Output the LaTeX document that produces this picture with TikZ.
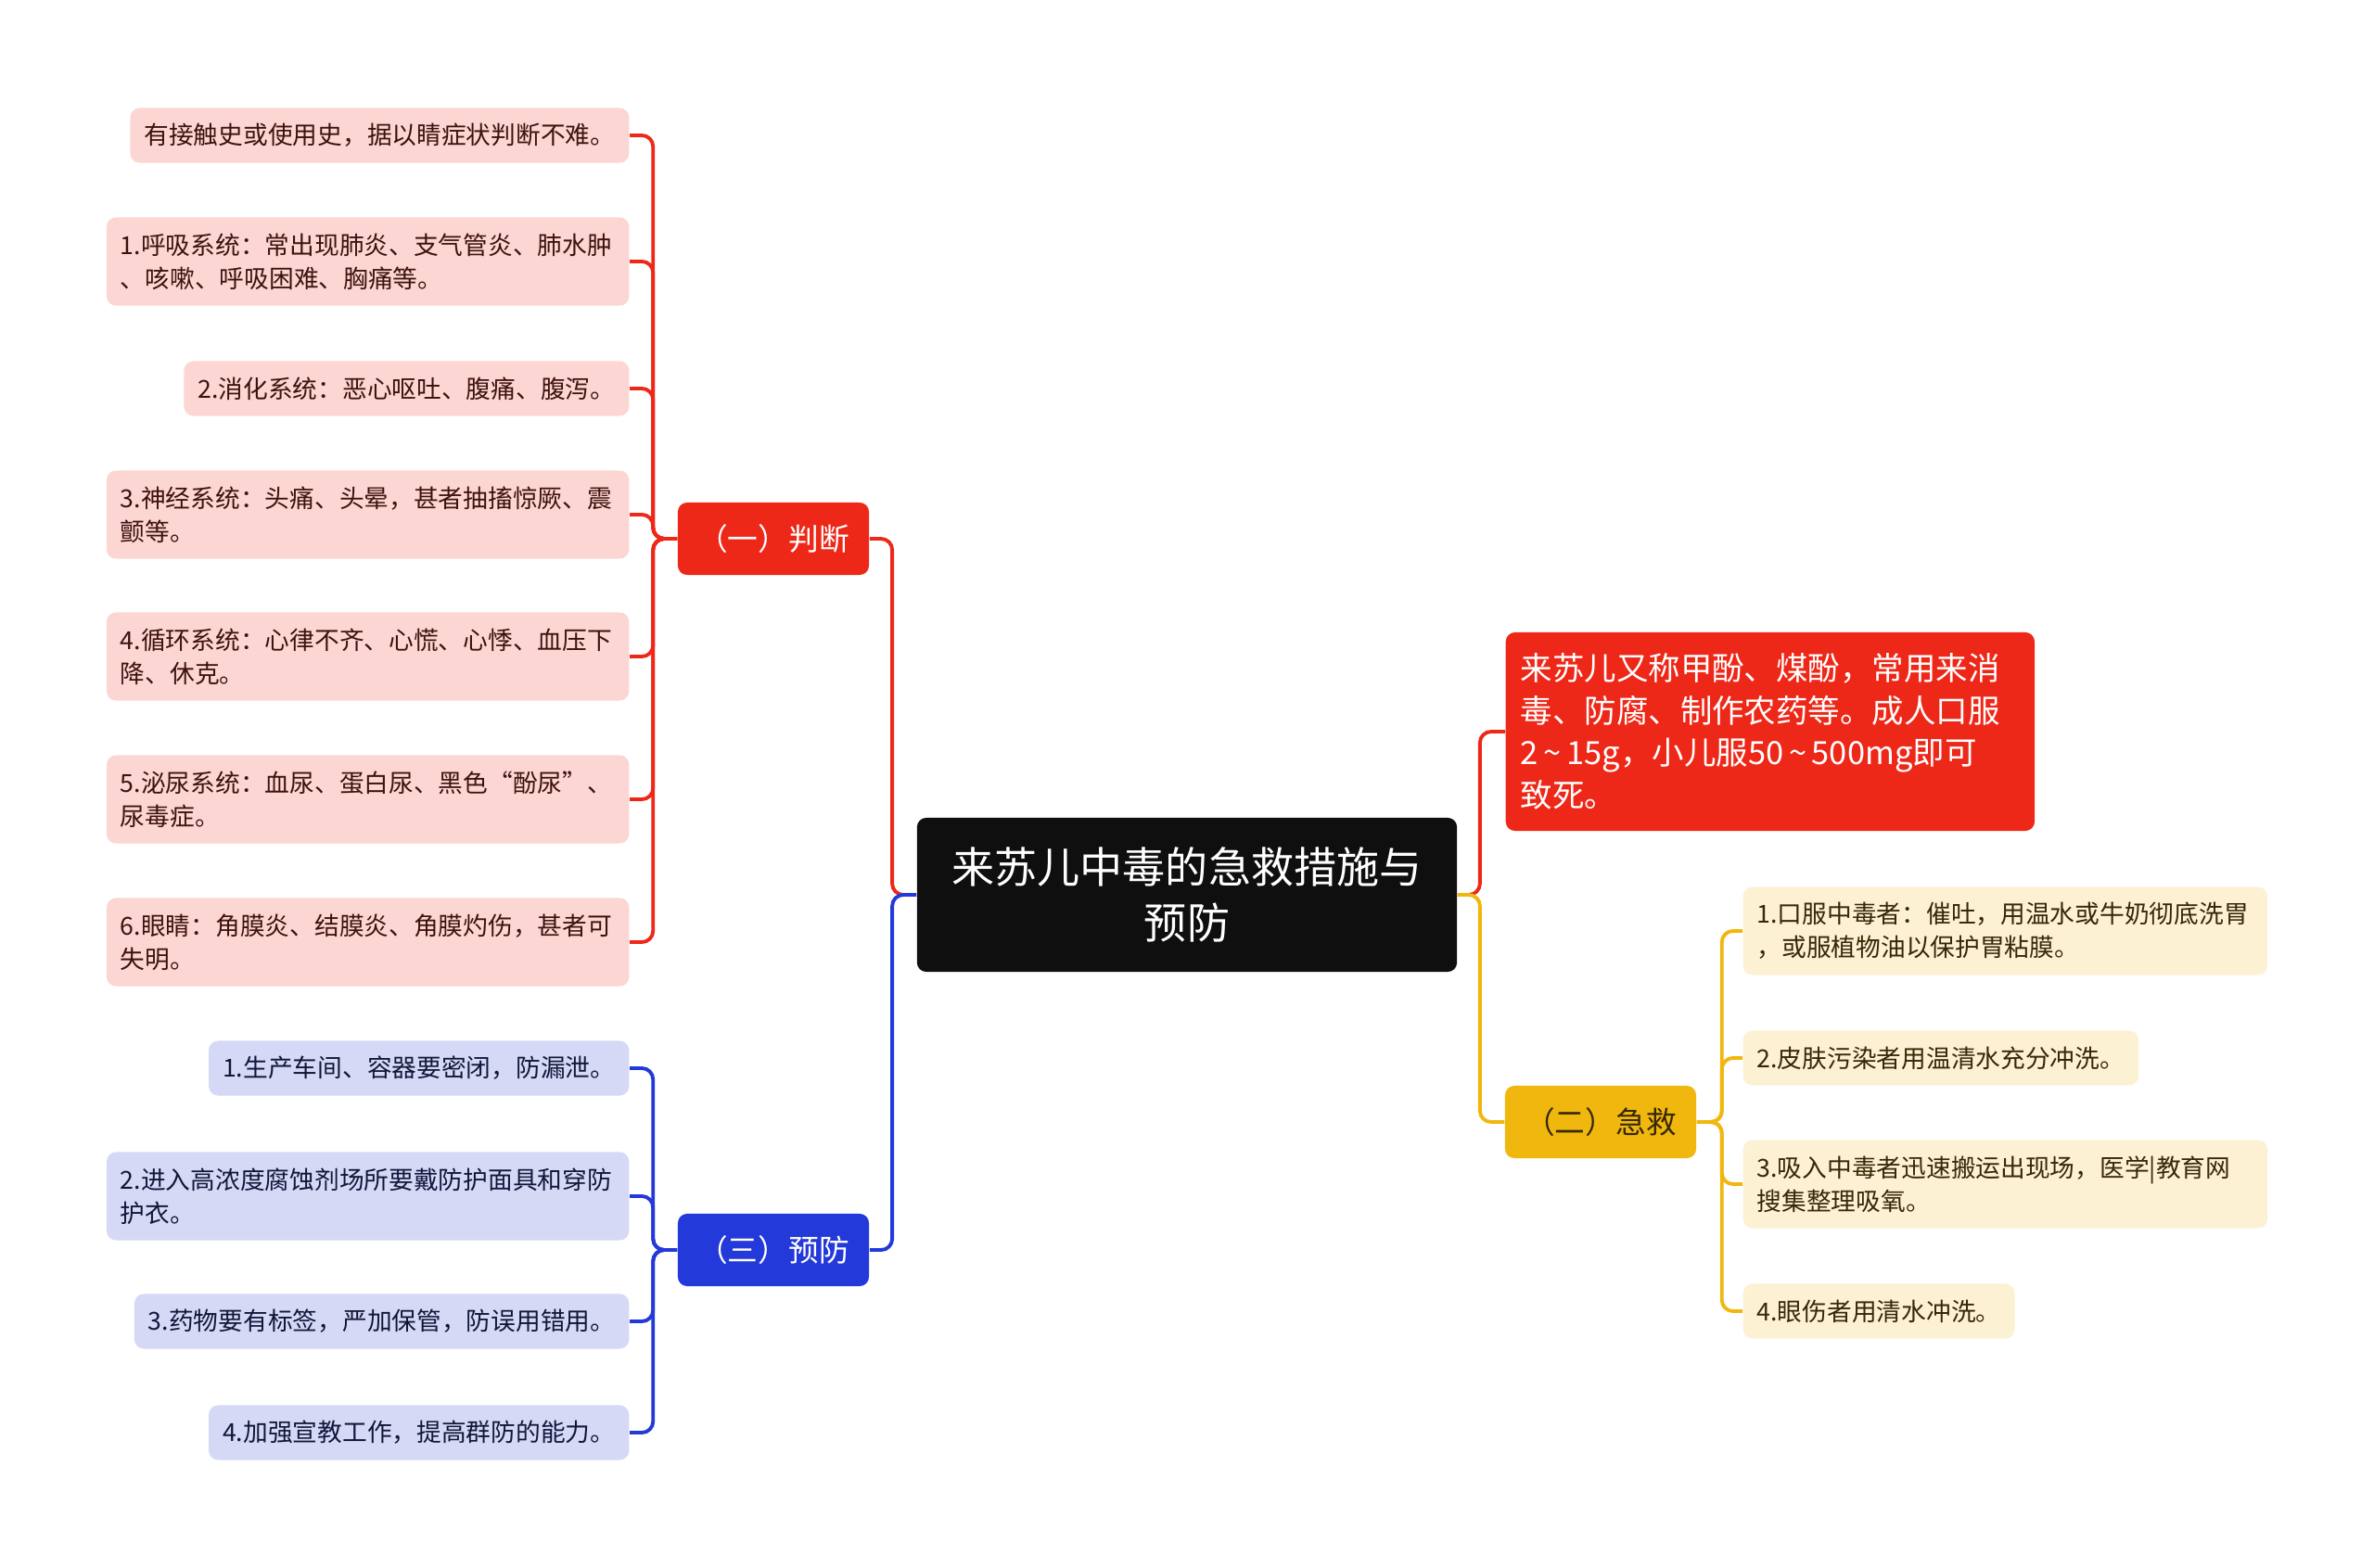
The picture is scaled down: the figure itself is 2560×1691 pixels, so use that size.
\documentclass[tikz,border=0pt]{standalone}
\usepackage{fontspec}
\setmainfont{Noto Sans CJK SC}
\definecolor{zred}{RGB}{238,40,24}
\definecolor{zblue}{RGB}{35,57,217}
\definecolor{zyellow}{RGB}{240,183,15}
\definecolor{pinkleaf}{RGB}{252,214,211}
\definecolor{blueleaf}{RGB}{213,217,246}
\definecolor{creamleaf}{RGB}{252,241,211}
\definecolor{redtext}{RGB}{62,18,14}
\definecolor{bluetext}{RGB}{18,22,58}
\definecolor{yellowtext}{RGB}{55,40,6}
\definecolor{rootfill}{RGB}{15,15,15}
\begin{document}
\begin{tikzpicture}[x=0.01cm, y=-0.01cm,
  box/.style={rounded corners=0.1cm, inner xsep=0.15cm, inner ysep=0pt, align=left},
  leaffont/.style={font=\fontsize{7.6}{10.2}\selectfont},
  jleaf/.style={box, leaffont, fill=pinkleaf, text=redtext, minimum height=0.59cm, anchor=east},
  pleaf/.style={box, leaffont, fill=blueleaf, text=bluetext, minimum height=0.59cm, anchor=east},
  sleaf/.style={box, leaffont, fill=creamleaf, text=yellowtext, minimum height=0.59cm, anchor=west},
  twolines/.style={minimum height=0.95cm, text width=5.33cm},
  branch/.style={box, align=center, font=\fontsize{9.3}{12}\selectfont, minimum width=2.06cm, minimum height=0.78cm},
  redline/.style={draw=zred, line width=1.1pt, rounded corners=0.12cm},
  blueline/.style={draw=zblue, line width=1.1pt, rounded corners=0.12cm},
  yellowline/.style={draw=zyellow, line width=1.1pt, rounded corners=0.12cm},
]
\useasboundingbox (0,0) rectangle (2560,1691);

% 中心主题
\node[box, align=center, fill=rootfill, text=white, font=\fontsize{13.1}{17.2}\selectfont,
  minimum width=5.82cm, minimum height=1.66cm] (root) at (1280,965) {来苏儿中毒的急救措施与\\预防};

% 一级分支
\node[branch, fill=zred, text=white] (judge) at (834,581) {（一）判断};
\node[branch, fill=zblue, text=white] (prevent) at (834,1348) {（三）预防};
\node[branch, fill=zyellow, text=yellowtext] (rescue) at (1726,1210) {（二）急救};
\node[box, fill=zred, text=white, font=\fontsize{9.8}{13}\selectfont, inner xsep=0.16cm,
  text width=5.38cm, minimum height=2.14cm, anchor=west] (desc) at (1623,789)
  {来苏儿又称甲酚、煤酚，常用来消\\毒、防腐、制作农药等。成人口服\\2\,\textasciitilde\,15g，小儿服50\,\textasciitilde\,500mg即可\\致死。};

% 判断
\node[jleaf] (j1) at (679,146) {有接触史或使用史，据以睛症状判断不难。};
\node[jleaf, twolines] (j2) at (679,282) {1.呼吸系统：常出现肺炎、支气管炎、肺水肿\\、咳嗽、呼吸困难、胸痛等。};
\node[jleaf] (j3) at (679,419) {2.消化系统：恶心呕吐、腹痛、腹泻。};
\node[jleaf, twolines] (j4) at (679,555) {3.神经系统：头痛、头晕，甚者抽搐惊厥、震\\颤等。};
\node[jleaf, twolines] (j5) at (679,708) {4.循环系统：心律不齐、心慌、心悸、血压下\\降、休克。};
\node[jleaf, twolines] (j6) at (679,862) {5.泌尿系统：血尿、蛋白尿、黑色“酚尿”、\\尿毒症。};
\node[jleaf, twolines] (j7) at (679,1016) {6.眼睛：角膜炎、结膜炎、角膜灼伤，甚者可\\失明。};

% 预防
\node[pleaf] (p1) at (679,1152) {1.生产车间、容器要密闭，防漏泄。};
\node[pleaf, twolines] (p2) at (679,1290) {2.进入高浓度腐蚀剂场所要戴防护面具和穿防\\护衣。};
\node[pleaf] (p3) at (679,1425) {3.药物要有标签，严加保管，防误用错用。};
\node[pleaf] (p4) at (679,1545) {4.加强宣教工作，提高群防的能力。};

% 急救
\node[sleaf, twolines, text width=5.35cm] (s1) at (1879,1004) {1.口服中毒者：催吐，用温水或牛奶彻底洗胃\\，或服植物油以保护胃粘膜。};
\node[sleaf] (s2) at (1879,1141) {2.皮肤污染者用温清水充分冲洗。};
\node[sleaf, twolines, text width=5.35cm] (s3) at (1879,1277) {3.吸入中毒者迅速搬运出现场，医学|教育网\\搜集整理吸氧。};
\node[sleaf] (s4) at (1879,1414) {4.眼伤者用清水冲洗。};

% 连线
\draw[redline] (root.west) -- ++(-26,0) |- (judge.east);
\draw[blueline] (root.west) -- ++(-26,0) |- (prevent.east);
\draw[redline] (root.east) -- ++(24,0) |- (desc.west);
\draw[yellowline] (root.east) -- ++(24,0) |- (rescue.west);
\foreach \n in {j1,j2,j3,j4,j5,j6,j7}
  \draw[redline] (judge.west) -- ++(-26,0) |- (\n.east);
\foreach \n in {p1,p2,p3,p4}
  \draw[blueline] (prevent.west) -- ++(-26,0) |- (\n.east);
\foreach \n in {s1,s2,s3,s4}
  \draw[yellowline] (rescue.east) -- ++(27,0) |- (\n.west);
\end{tikzpicture}
\end{document}
